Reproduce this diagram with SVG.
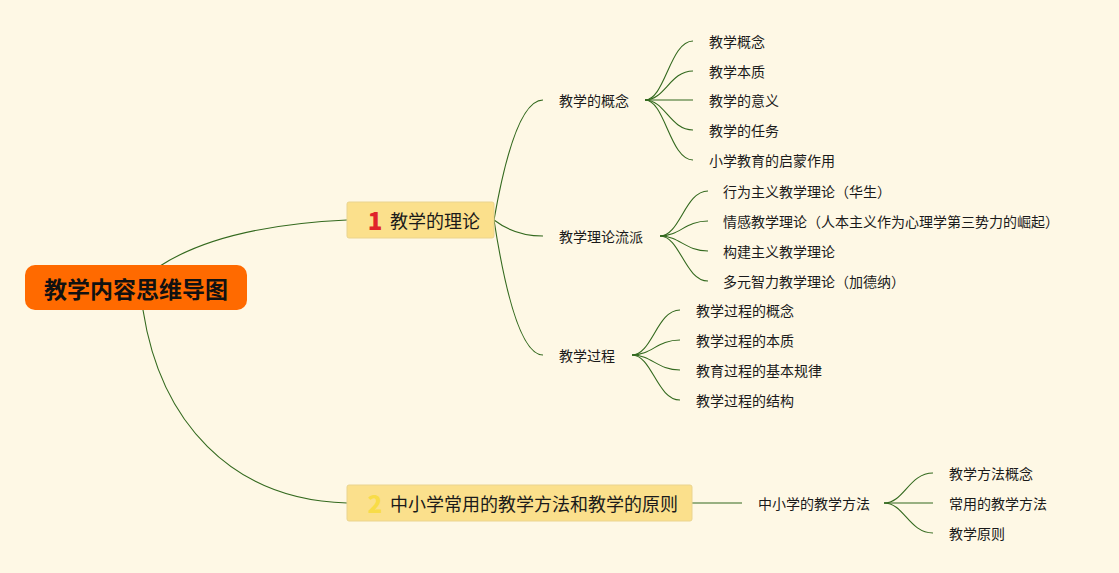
<svg xmlns="http://www.w3.org/2000/svg" width="1119" height="573" viewBox="0 0 1119 573">
<style>
.t{font-family:"Noto Sans CJK SC","Noto Sans",sans-serif;font-size:14px;fill:#1a1a1a;dominant-baseline:central}
.t1{font-family:"Noto Sans CJK SC","Noto Sans",sans-serif;font-size:18px;fill:#1a1a1a;dominant-baseline:central}
.num{font-family:"Noto Sans CJK SC","Liberation Sans",sans-serif;font-size:24px;font-weight:900;dominant-baseline:central;text-anchor:middle}
.box{fill:#fbe08c;stroke:#ead48f;stroke-width:1}
.c{fill:none;stroke:#33691e;stroke-width:1.1}
</style>
<rect width="1119" height="573" fill="#fef8e5"/>
<g id="connectors">
<path class="c" d="M160,266 C200,240 260,224 347,220"/>
<path class="c" d="M143,310 C160,420 230,500 347,503"/>
<path class="c" d="M494,220 Q515,100 543,100"/>
<path class="c" d="M494,220 Q515,236 543,236"/>
<path class="c" d="M494,220 Q515,355 543,355"/>
<path class="c" d="M692,503 L742,503"/>
<path class="c" d="M645,100 C665,100 670,41 693,41"/>
<path class="c" d="M645,100 C665,100 670,71 693,71"/>
<path class="c" d="M645,100 L693,100"/>
<path class="c" d="M645,100 C665,100 670,130 693,130"/>
<path class="c" d="M645,100 C665,100 670,160 693,160"/>
<path class="c" d="M660,236 C680,236 685,191 708,191"/>
<path class="c" d="M660,236 C680,236 685,221 708,221"/>
<path class="c" d="M660,236 C680,236 685,251 708,251"/>
<path class="c" d="M660,236 C680,236 685,281 708,281"/>
<path class="c" d="M632,355 C652,355 657,310 680,310"/>
<path class="c" d="M632,355 C652,355 657,340 680,340"/>
<path class="c" d="M632,355 C652,355 657,370 680,370"/>
<path class="c" d="M632,355 C652,355 657,400 680,400"/>
<path class="c" d="M884,503 C904,503 909,473 933,473"/>
<path class="c" d="M884,503 L933,503"/>
<path class="c" d="M884,503 C904,503 909,533 933,533"/>
</g>
<g id="root">
<rect x="25" y="265" width="222" height="45" rx="10" fill="#ff6a00"/>
<text x="136" y="288" text-anchor="middle" style="font-family:'Noto Sans CJK SC',sans-serif;font-size:23px;font-weight:bold;fill:#111;dominant-baseline:central">教学内容思维导图</text>
</g>
<g id="n1">
<rect class="box" x="347" y="202" width="147" height="36" rx="2"/>
<text class="num" x="375" y="219" fill="#e0232a">1</text>
<text class="t1" x="390" y="220">教学的理论</text>
</g>
<g id="n2">
<rect class="box" x="347" y="485" width="345" height="36" rx="2"/>
<text class="num" x="375" y="502" fill="#f8dc48">2</text>
<text class="t1" x="390" y="503">中小学常用的教学方法和教学的原则</text>
</g>
<g id="n1a"><text class="t" x="559" y="100">教学的概念</text></g>
<g id="n1b"><text class="t" x="559" y="236">教学理论流派</text></g>
<g id="n1c"><text class="t" x="559" y="355">教学过程</text></g>
<g id="n2a"><text class="t" x="758" y="503">中小学的教学方法</text></g>
<g id="n1a1"><text class="t" x="709" y="41">教学概念</text></g>
<g id="n1a2"><text class="t" x="709" y="71">教学本质</text></g>
<g id="n1a3"><text class="t" x="709" y="100">教学的意义</text></g>
<g id="n1a4"><text class="t" x="709" y="130">教学的任务</text></g>
<g id="n1a5"><text class="t" x="709" y="160">小学教育的启蒙作用</text></g>
<g id="n1b1"><text class="t" x="723" y="191">行为主义教学理论（华生）</text></g>
<g id="n1b2"><text class="t" x="723" y="221">情感教学理论（人本主义作为心理学第三势力的崛起）</text></g>
<g id="n1b3"><text class="t" x="723" y="251">构建主义教学理论</text></g>
<g id="n1b4"><text class="t" x="723" y="281">多元智力教学理论（加德纳）</text></g>
<g id="n1c1"><text class="t" x="696" y="310">教学过程的概念</text></g>
<g id="n1c2"><text class="t" x="696" y="340">教学过程的本质</text></g>
<g id="n1c3"><text class="t" x="696" y="370">教育过程的基本规律</text></g>
<g id="n1c4"><text class="t" x="696" y="400">教学过程的结构</text></g>
<g id="n2a1"><text class="t" x="949" y="473">教学方法概念</text></g>
<g id="n2a2"><text class="t" x="949" y="503">常用的教学方法</text></g>
<g id="n2a3"><text class="t" x="949" y="533">教学原则</text></g>
</svg>
